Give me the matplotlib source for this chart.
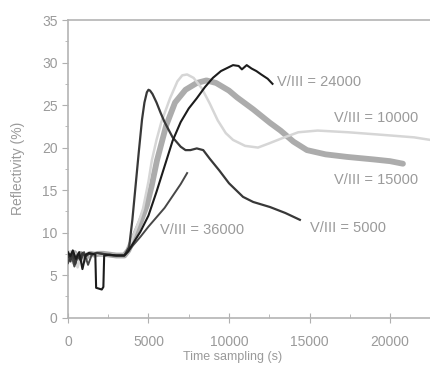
import matplotlib
matplotlib.use("Agg")
import matplotlib.pyplot as plt
import numpy as np

plt.rcParams["font.family"] = ["Liberation Sans", "DejaVu Sans"]

# --- data (time in s, reflectivity in %) ---
t_5000 = [0, 150, 300, 450, 600, 750, 900, 1100, 1300, 1500, 1800, 2100, 2400, 2800, 3200, 3500,
          3800, 4000, 4200, 4400, 4600, 4750, 4900, 5000, 5100, 5250, 5500, 5750, 6000, 6500,
          7000, 7300, 7600, 8000, 8400, 8800, 9400, 10000, 10870, 11500, 12550, 13500, 14400]
r_5000 = [7.5, 6.6, 7.7, 6.3, 7.4, 6.9, 7.6, 7.2, 7.5, 7.4, 7.6, 7.5, 7.4, 7.3, 7.3, 7.3,
          8.3, 11.5, 15.5, 19.5, 23.3, 25.3, 26.5, 26.8, 26.7, 26.3, 25.3, 24.1, 23.0, 21.2,
          20.1, 19.7, 19.7, 19.9, 19.7, 18.7, 17.3, 15.8, 14.2, 13.6, 13.0, 12.3, 11.5]

t_10000 = [0, 150, 300, 450, 600, 800, 1000, 1200, 1400, 1600, 1900, 2200, 2600, 3000, 3500,
           3750, 4000, 4400, 4660, 5000, 5210, 5500, 5800, 6340, 6800, 7100, 7400, 7800, 8300,
           8800, 9300, 9800, 10250, 11000, 11800, 12500, 13300, 14300, 15500, 17400, 19500,
           21500, 22500]
r_10000 = [7.0, 7.8, 6.4, 7.5, 5.9, 7.2, 6.5, 7.6, 7.3, 7.6, 7.5, 7.4, 7.4, 7.3, 7.3,
           8.0, 9.3, 11.3, 12.8, 16.0, 18.5, 20.9, 23.0, 25.8, 27.8, 28.5, 28.6, 28.2, 27.0,
           25.2, 23.2, 21.7, 20.9, 20.2, 20.0, 20.5, 21.1, 21.8, 22.0, 21.8, 21.5, 21.2, 20.9]

t_15000 = [0, 200, 400, 600, 800, 1000, 1200, 1400, 1650, 1900, 2200, 2600, 3000, 3500,
           3750, 4000, 4500, 4900, 5200, 5530, 6100, 6650, 7300, 8000, 8600, 9200, 10000, 10500,
           11500, 12550, 13200, 14000, 14840, 16000, 17330, 19000, 20000, 20800]
r_15000 = [7.4, 6.9, 7.6, 7.0, 7.5, 6.8, 7.3, 7.5, 7.4, 7.5, 7.5, 7.4, 7.3, 7.3,
           7.9, 9.0, 11.2, 13.2, 15.5, 18.5, 22.6, 25.3, 26.8, 27.6, 27.9, 27.6, 26.7, 25.9,
           24.5, 22.9, 22.0, 20.7, 19.7, 19.2, 18.9, 18.6, 18.4, 18.1]

t_24000 = [0, 150, 300, 500, 700, 900, 1100, 1300, 1550, 1700, 1750, 2100, 2200, 2250, 2600,
           3000, 3500, 3750, 4000, 4500, 5000, 5500, 6000, 6500, 7000, 7500, 8000, 8500, 9000,
           9500, 10250, 10600, 10800, 11100, 11400, 11700, 12000, 12400, 12700]
r_24000 = [7.7, 7.2, 7.9, 6.9, 7.7, 5.7, 7.4, 7.6, 7.5, 7.4, 3.5, 3.3, 3.6, 7.3, 7.4,
           7.3, 7.3, 7.8, 8.6, 10.1, 12.0, 14.8, 17.8, 20.8, 23.0, 24.6, 25.8, 27.1, 28.2,
           29.0, 29.7, 29.6, 29.2, 29.7, 29.3, 29.0, 28.6, 28.1, 27.5]

t_36000 = [0, 200, 400, 600, 800, 1000, 1250, 1500, 1800, 2200, 2600, 3000, 3500,
           3750, 4000, 4500, 5000, 5500, 6000, 6500, 7000, 7400]
r_36000 = [6.4, 7.5, 6.0, 7.2, 6.7, 7.7, 6.2, 7.5, 7.6, 7.5, 7.4, 7.3, 7.3,
           7.8, 8.4, 9.5, 10.7, 11.8, 12.9, 14.3, 15.7, 17.0]

labels = ["V/III = 24000", "V/III = 10000", "V/III = 15000", "V/III = 5000", "V/III = 36000"]
label_x = [13000, 16550, 16550, 15000, 5700]
label_y = [27.7, 23.5, 16.2, 10.5, 10.3]

x_ticks = [0, 5000, 10000, 15000, 20000]
y_ticks = [0, 5, 10, 15, 20, 25, 30, 35]

fig = plt.figure(figsize=(4.3, 3.65), dpi=100)
ax = fig.add_axes([0.158, 0.130, 0.842, 0.815])

ax.plot(t_15000, r_15000, color="#acacac", lw=4.2, solid_capstyle="round", zorder=2)
ax.plot(t_10000, r_10000, color="#d6d6d6", lw=1.8, zorder=3)
ax.plot(t_36000, r_36000, color="#474747", lw=1.4, zorder=4)
ax.plot(t_5000, r_5000, color="#383838", lw=1.6, zorder=5)
ax.plot(t_24000, r_24000, color="#1c1c1c", lw=1.5, zorder=6)

for txt, lx, ly in zip(labels, label_x, label_y):
    ax.text(lx, ly, txt, ha="left", va="center", fontsize=10.5, color="#9a9a9a")

ax.set_xlim(0, 22480)
ax.set_ylim(0, 35)
ax.set_xticks(x_ticks)
ax.set_xticks([2500, 7500, 12500, 17500], minor=True)
ax.set_yticks(y_ticks)
ax.set_yticks([2.5, 7.5, 12.5, 17.5, 22.5, 27.5, 32.5], minor=True)

for s in ax.spines.values():
    s.set_color("#b4b4b4")
    s.set_linewidth(1.2)
ax.spines["right"].set_visible(False)

ax.tick_params(axis="both", which="both", colors="#b0b0b0", labelcolor="#9a9a9a", labelsize=10)
ax.tick_params(axis="x", which="major", direction="inout", length=7, pad=9)
ax.tick_params(axis="x", which="minor", direction="in", length=3)
ax.tick_params(axis="y", which="major", direction="out", length=4)
ax.tick_params(axis="y", which="minor", direction="out", length=2)

# x label sits right at the bottom edge, as in the scan
ax.set_xlabel("Time sampling (s)", fontsize=9, color="#9a9a9a", va="top")
ax.xaxis.set_label_coords(0.456, -0.114)
ax.set_ylabel("Reflectivity (%)", fontsize=10, color="#9a9a9a", labelpad=12)

fig.savefig("out.png", dpi=100)
